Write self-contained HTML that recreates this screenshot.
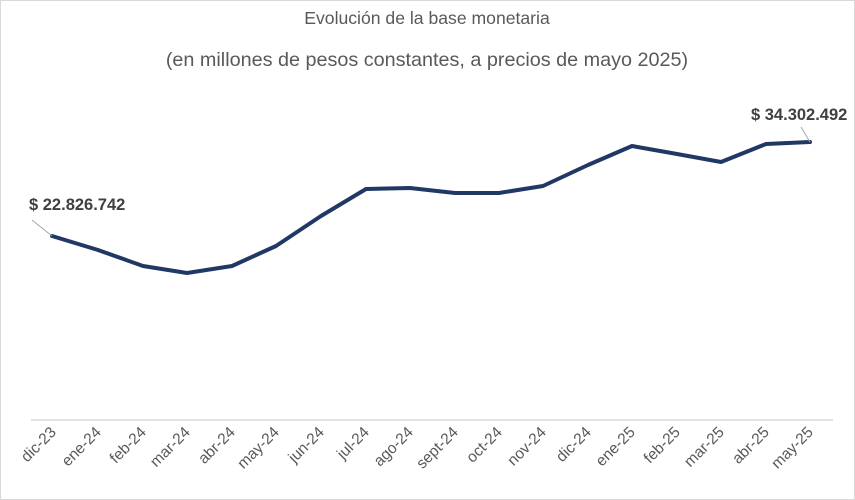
<!DOCTYPE html>
<html><head><meta charset="utf-8"><style>
html,body{margin:0;padding:0;background:#fff;}
svg{display:block;font-family:"Liberation Sans",sans-serif;}
</style></head><body>
<svg width="855" height="500" viewBox="0 0 855 500">
<rect x="0.5" y="0.5" width="854" height="499" fill="#fff" stroke="#d9d9d9"/>
<text x="427" y="24" text-anchor="middle" font-size="17.6" fill="#595959">Evolución de la base monetaria</text>
<text x="427" y="66" text-anchor="middle" font-size="19.8" fill="#595959">(en millones de pesos constantes, a precios de mayo 2025)</text>
<line x1="31" y1="420" x2="833" y2="420" stroke="#d9d9d9" stroke-width="1.5"/>
<polyline fill="none" stroke="#1f3864" stroke-width="4" stroke-linejoin="round" stroke-linecap="round"
points="52,236 98,250 143,266 187,273 232,266 276,246 321,216 366,189 410,188 455,193 499,193 543,186 588,165 632,146 677,154 721,162 766,144 810,142"/>
<line x1="52" y1="236" x2="32" y2="220" stroke="#a6a6a6" stroke-width="1"/>
<line x1="810" y1="142" x2="801" y2="127" stroke="#a6a6a6" stroke-width="1"/>
<text x="29" y="210" font-size="16.5" font-weight="bold" fill="#404040">$ 22.826.742</text>
<text x="751" y="120" font-size="16.5" font-weight="bold" fill="#404040">$ 34.302.492</text>
<g font-size="15.5" fill="#595959" text-anchor="end">
<text transform="translate(57,433) rotate(-45)">dic-23</text>
<text transform="translate(102,433) rotate(-45)">ene-24</text>
<text transform="translate(147,433) rotate(-45)">feb-24</text>
<text transform="translate(191,433) rotate(-45)">mar-24</text>
<text transform="translate(236,433) rotate(-45)">abr-24</text>
<text transform="translate(280,433) rotate(-45)">may-24</text>
<text transform="translate(325,433) rotate(-45)">jun-24</text>
<text transform="translate(370,433) rotate(-45)">jul-24</text>
<text transform="translate(414,433) rotate(-45)">ago-24</text>
<text transform="translate(459,433) rotate(-45)">sept-24</text>
<text transform="translate(503,433) rotate(-45)">oct-24</text>
<text transform="translate(547,433) rotate(-45)">nov-24</text>
<text transform="translate(592,433) rotate(-45)">dic-24</text>
<text transform="translate(636,433) rotate(-45)">ene-25</text>
<text transform="translate(681,433) rotate(-45)">feb-25</text>
<text transform="translate(725,433) rotate(-45)">mar-25</text>
<text transform="translate(770,433) rotate(-45)">abr-25</text>
<text transform="translate(814,433) rotate(-45)">may-25</text>
</g>
</svg>
</body></html>
